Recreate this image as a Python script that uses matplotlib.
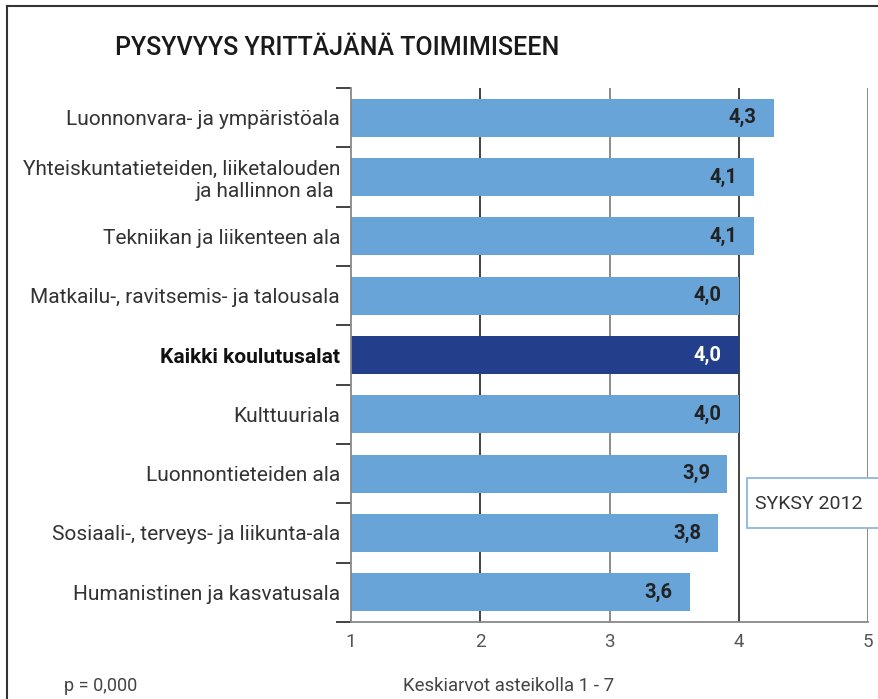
import matplotlib.pyplot as plt
from matplotlib.lines import Line2D
from matplotlib.patches import Rectangle

# Data (top to bottom as in the chart)
categories = [
    "Luonnonvara- ja ympäristöala",
    "Yhteiskuntatieteiden, liiketalouden\nja hallinnon ala ",
    "Tekniikan ja liikenteen ala",
    "Matkailu-, ravitsemis- ja talousala",
    "Kaikki koulutusalat",
    "Kulttuuriala",
    "Luonnontieteiden ala",
    "Sosiaali-, terveys- ja liikunta-ala",
    "Humanistinen ja kasvatusala",
]
# bar lengths (labels are rounded)
values = [4.27, 4.12, 4.12, 4.0, 4.0, 4.0, 3.91, 3.84, 3.62]
value_labels = ["4,3", "4,1", "4,1", "4,0", "4,0", "4,0", "3,9", "3,8", "3,6"]
total_label = "Kaikki koulutusalat"
x_ticks = [1, 2, 3, 4, 5]

light_blue = "#68a4d8"
dark_blue = "#233f8c"

plt.rcParams['font.family'] = ['Roboto', 'DejaVu Sans']

fig = plt.figure(figsize=(8.79, 6.99), dpi=100)
ax = fig.add_axes([351 / 879, 1 - 622 / 699, 517 / 879, 534 / 699])

n = len(categories)
ypos = [n - 1 - i for i in range(n)]
colors = [dark_blue if c == total_label else light_blue for c in categories]

# vertical grid lines behind bars
grid_colors = {2: "#222222", 3: "#777777", 4: "#222222", 5: "#777777"}
for xv, col in grid_colors.items():
    ax.axvline(xv, color=col, lw=1.2, zorder=0)

ax.barh(ypos, [v - 1 for v in values], left=1, height=0.64, color=colors, zorder=2)

for y, v, lab, c in zip(ypos, values, value_labels, categories):
    ax.text(v - 0.13, y, lab, ha='right', va='center', fontsize=14.5,
            fontweight='bold', color='white' if c == total_label else '#222222', zorder=3)

ax.set_xlim(1, 5)
ax.set_ylim(-0.5, n - 0.5)
ax.set_xticks(x_ticks)
ax.set_xticklabels([str(t) for t in x_ticks], fontsize=13.5, color='#555555')
ax.tick_params(axis='x', length=0, pad=8)

ax.set_yticks(ypos)
ax.set_yticklabels(categories, fontsize=15, color='#333333')
ax.tick_params(axis='y', length=0, pad=8)
for lbl in ax.get_yticklabels():
    lbl.set_multialignment('right')
    if lbl.get_text() == total_label:
        lbl.set_fontweight('bold')
        lbl.set_color('#111111')
ax.set_yticks([i - 0.5 for i in range(n + 1)], minor=True)
ax.tick_params(axis='y', which='minor', length=10.5, width=1.2, color='#222222')

for s in ['top', 'right']:
    ax.spines[s].set_visible(False)
ax.spines['left'].set_color('#888888')
ax.spines['bottom'].set_color('#888888')
ax.spines['left'].set_linewidth(1.3)
ax.spines['bottom'].set_linewidth(1.3)

# title
fig.text(115 / 879, 1 - 48 / 699, "PYSYVYYS YRITTÄJÄNÄ TOIMIMISEEN", fontsize=18,
         fontweight='medium', color='#1a1a1a', va='center', ha='left')

# legend-like box
fig.patches.append(Rectangle((747 / 879, 1 - 528 / 699), 140 / 879, 50 / 699,
                             transform=fig.transFigure, facecolor='white',
                             edgecolor='#8ab8e0', lw=1.3, zorder=5))
fig.text(755 / 879, 1 - 504 / 699, "SYKSY 2012", fontsize=14, color='#333333',
         va='center', ha='left', zorder=6)

# footer texts
fig.text(64 / 879, 1 - 686 / 699, "p = 0,000", fontsize=13, color='#444444', va='center')
fig.text(403 / 879, 1 - 686 / 699, "Keskiarvot asteikolla 1 - 7", fontsize=13.4,
         color='#444444', va='center')

# outer frame lines
fig.add_artist(Line2D([7 / 879, 1], [1 - 6 / 699, 1 - 6 / 699], transform=fig.transFigure,
                      color='#333333', lw=1.5))
fig.add_artist(Line2D([7 / 879, 7 / 879], [0, 1 - 6 / 699], transform=fig.transFigure,
                      color='#333333', lw=1.5))

fig.savefig("out.png", dpi=100)
